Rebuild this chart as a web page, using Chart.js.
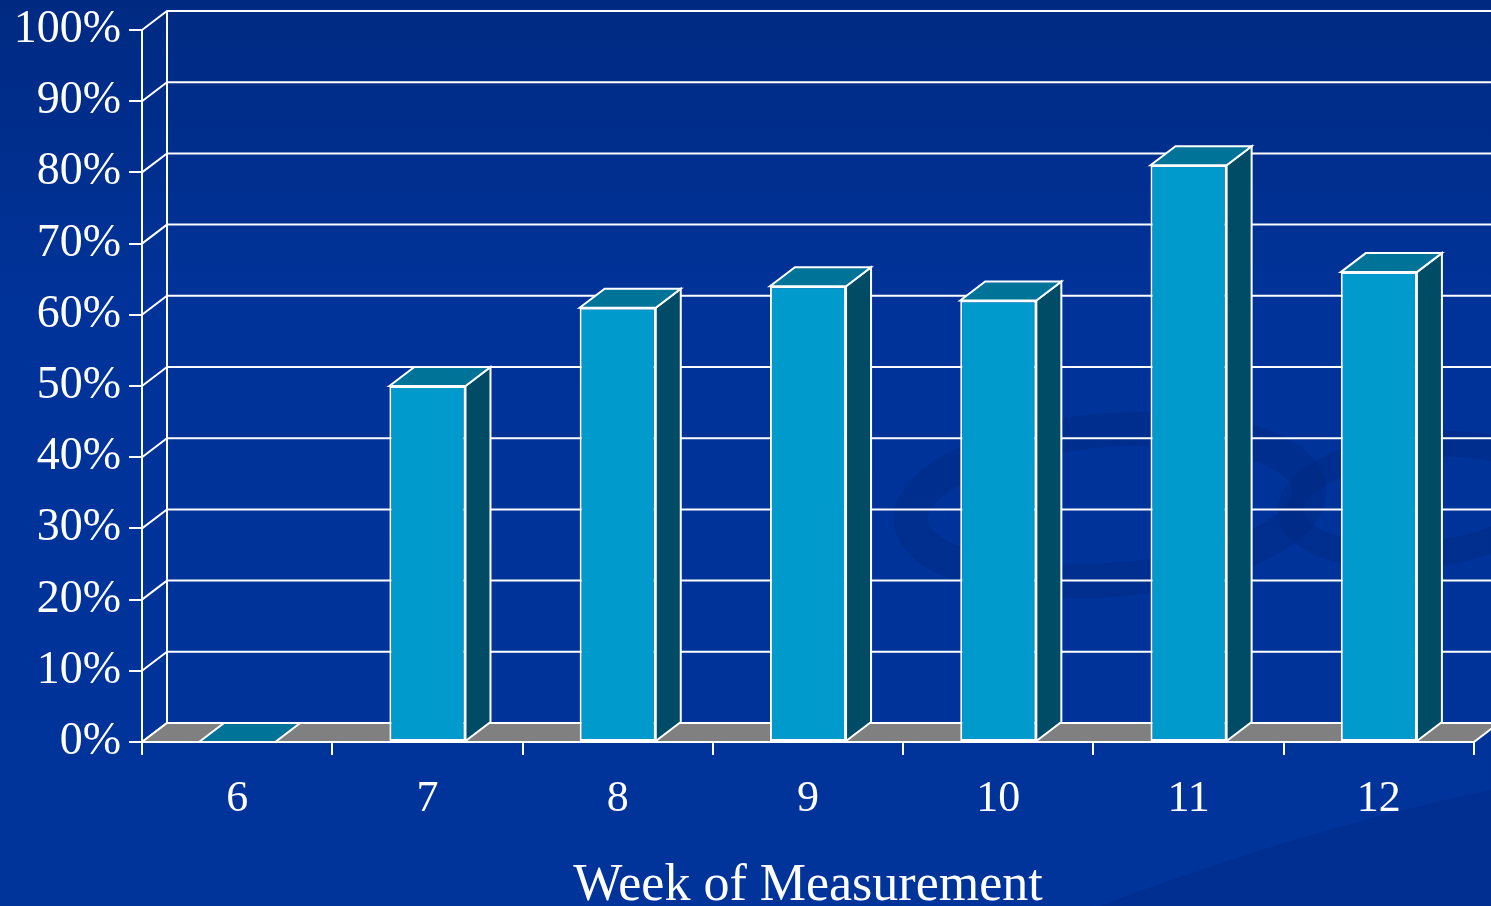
<!DOCTYPE html>
<html>
<head>
<meta charset="utf-8">
<title>Week of Measurement</title>
<script src="https://cdn.jsdelivr.net/npm/chart.js@4/dist/chart.umd.min.js"></script>
<style>
  html, body { margin: 0; padding: 0; background: #003399; overflow: hidden; }
  canvas { display: block; }
</style>
</head>
<body>
<canvas id="chart" width="1491" height="906"></canvas>
<script>
// Categories and values (percent of measurements per week)
const weeks = ['6', '7', '8', '9', '10', '11', '12'];
const shareValues = [0, 50, 61, 64, 62, 81, 66];
const yTickValues = [0, 10, 20, 30, 40, 50, 60, 70, 80, 90, 100];
const axisTitle = 'Week of Measurement';

// Palette and depth of the pseudo-3D boxes
const FRONT = '#009BCC';
const TOP = '#007399';
const SIDE = '#004C66';
const FLOOR = '#808080';
const EDGE = '#FFFFFF';
const DX = 25, DY = -19;

const serif = '"Liberation Serif", "DejaVu Serif", serif';

function poly(ctx, pts, fill) {
  ctx.beginPath();
  ctx.moveTo(pts[0][0], pts[0][1]);
  for (let i = 1; i < pts.length; i++) ctx.lineTo(pts[i][0], pts[i][1]);
  ctx.closePath();
  if (fill) { ctx.fillStyle = fill; ctx.fill(); }
  ctx.stroke();
}

const box3d = {
  id: 'box3d',
  beforeDraw(chart) {
    const {ctx, width, height} = chart;
    ctx.save();
    const g = ctx.createLinearGradient(0, 0, 0, height);
    g.addColorStop(0, '#002A82');
    g.addColorStop(0.35, '#00339A');
    g.addColorStop(1, '#00349B');
    ctx.fillStyle = g;
    ctx.fillRect(0, 0, width, height);
    // faint decorative swirls in the lower right
    ctx.strokeStyle = 'rgba(0, 35, 120, 0.3)';
    ctx.lineWidth = 34;
    ctx.beginPath();
    ctx.ellipse(1110, 505, 200, 75, -0.08, 0, Math.PI * 2);
    ctx.stroke();
    ctx.lineWidth = 26;
    ctx.beginPath();
    ctx.ellipse(1420, 500, 130, 55, -0.1, 0, Math.PI * 2);
    ctx.stroke();
    ctx.fillStyle = 'rgba(0, 38, 125, 0.35)';
    ctx.beginPath();
    ctx.moveTo(1100, 906);
    ctx.quadraticCurveTo(1300, 830, 1491, 790);
    ctx.lineTo(1491, 906);
    ctx.closePath();
    ctx.fill();
    ctx.restore();
  },
  beforeDatasetsDraw(chart) {
    const {ctx, chartArea: ca, scales: {x, y}} = chart;
    ctx.save();
    ctx.strokeStyle = EDGE;
    ctx.lineWidth = 2;
    // back wall gridlines and left wall diagonals
    yTickValues.forEach(v => {
      const py = y.getPixelForValue(v);
      ctx.beginPath();
      ctx.moveTo(ca.left, py);
      ctx.lineTo(ca.left + DX, py + DY);
      ctx.lineTo(chart.width + 5, py + DY);
      ctx.stroke();
    });
    ctx.beginPath();
    ctx.moveTo(ca.left + DX, y.getPixelForValue(100) + DY);
    ctx.lineTo(ca.left + DX, y.getPixelForValue(0) + DY);
    ctx.stroke();
    // floor
    const b = y.getPixelForValue(0);
    poly(ctx, [[ca.left, b], [ca.right, b], [ca.right + DX, b + DY], [ca.left + DX, b + DY]], FLOOR);
    ctx.restore();
  },
  afterDatasetsDraw(chart) {
    const {ctx} = chart;
    const meta = chart.getDatasetMeta(0);
    ctx.save();
    ctx.strokeStyle = EDGE;
    ctx.lineWidth = 2;
    ctx.lineJoin = 'miter';
    meta.data.forEach(bar => {
      const {x: cx, y: top, base, width} = bar.getProps(['x', 'y', 'base', 'width'], true);
      const l = cx - width / 2, r = cx + width / 2;
      if (base - top > 0.5) {
        poly(ctx, [[r, top], [r + DX, top + DY], [r + DX, base + DY], [r, base]], SIDE);
      }
      poly(ctx, [[l, top], [l + DX, top + DY], [r + DX, top + DY], [r, top]], TOP);
    });
    ctx.restore();
  }
};

new Chart(document.getElementById('chart'), {
  type: 'bar',
  data: {
    labels: weeks,
    datasets: [{
      data: shareValues,
      backgroundColor: FRONT,
      borderColor: EDGE,
      borderWidth: 2,
      borderSkipped: false,
      barPercentage: 0.4,
      categoryPercentage: 1
    }]
  },
  options: {
    responsive: false,
    animation: false,
    devicePixelRatio: 1,
    layout: { padding: { top: 30, right: 17, left: 0, bottom: 0 } },
    plugins: { legend: { display: false }, tooltip: { enabled: false } },
    scales: {
      x: {
        offset: true,
        grid: { display: true, drawOnChartArea: false, drawTicks: true, tickLength: 13, color: EDGE, lineWidth: 2, offset: true },
        border: { display: true, color: EDGE, width: 2 },
        ticks: { color: EDGE, font: { family: serif, size: 44 }, padding: 18, maxRotation: 0, autoSkip: false },
        title: { display: true, text: axisTitle, color: EDGE, font: { family: serif, size: 52, lineHeight: 1 }, padding: { top: 0, bottom: -6 } },
        afterFit(scale) { scale.height = 164; }
      },
      y: {
        min: 0, max: 100,
        afterBuildTicks(scale) { scale.ticks = yTickValues.map(v => ({ value: v })); },
        grid: { display: true, drawOnChartArea: false, drawTicks: true, tickLength: 13, color: EDGE, lineWidth: 2 },
        border: { display: true, color: EDGE, width: 2 },
        ticks: { color: EDGE, font: { family: serif, size: 46, lineHeight: 1 }, padding: 8, callback: v => v + '%' },
        afterFit(scale) { scale.width = 142; scale.paddingTop = 0; }
      }
    }
  },
  plugins: [box3d]
});
</script>
</body>
</html>
